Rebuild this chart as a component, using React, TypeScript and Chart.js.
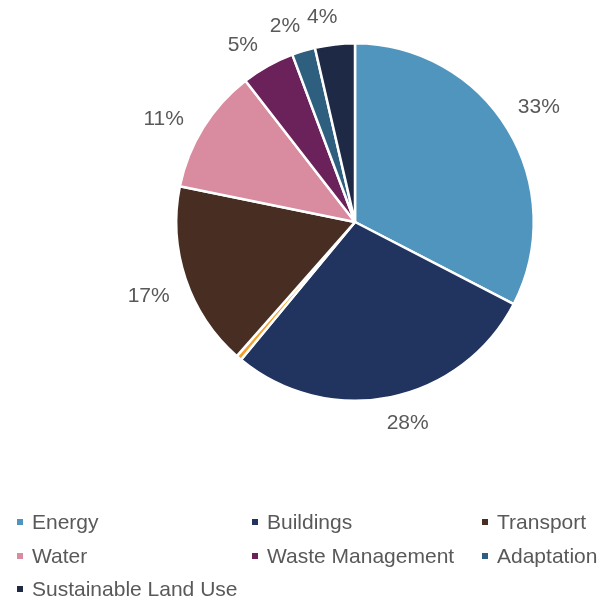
import React, { useEffect, useRef } from "react";
import { Chart, registerables } from "chart.js";

Chart.register(...registerables);

const categories = ["Energy", "Buildings", "Other", "Transport", "Water", "Waste Management", "Adaptation", "Sustainable Land Use"];
const shares = [32.6, 28.4, 0.5, 16.7, 11.3, 4.8, 2.1, 3.6];
const colors = ["#5095BD", "#21345F", "#F2A12E", "#482D22", "#D98BA0", "#6B2159", "#2F5F7F", "#1E2945"];
const legendHidden = ["Other"];

const FONT = "'Liberation Sans', Arial, sans-serif";
const TEXT = "#595959";
const SIZE = 21;

const outsideLabels = {
  id: "outsideLabels",
  afterDatasetsDraw(chart: any) {
    const ctx = chart.ctx;
    const meta = chart.getDatasetMeta(0);
    ctx.save();
    ctx.font = `${SIZE}px ${FONT}`;
    ctx.fillStyle = TEXT;
    ctx.textAlign = "center";
    ctx.textBaseline = "middle";
    meta.data.forEach((arc: any, i: number) => {
      if (legendHidden.includes(categories[i])) return;
      const p = arc.getProps(["x", "y", "startAngle", "endAngle", "outerRadius"], true);
      const mid = (p.startAngle + p.endAngle) / 2 - 0.04;
      const txt = Math.round(shares[i]) + "%";
      const w = ctx.measureText(txt).width;
      const h = SIZE * 0.75;
      const r = p.outerRadius + 19;
      const ux = Math.cos(mid);
      const uy = Math.sin(mid);
      const x = p.x + ux * r + ux * (w / 2 + 2);
      const y = p.y + uy * r + uy * (h / 2 + 2);
      ctx.fillText(txt, x, y);
    });
    ctx.restore();
  },
};

const gridLegend = {
  id: "gridLegend",
  afterDraw(chart: any) {
    const ctx = chart.ctx;
    const colX = [20, 255, 485];
    const rowY = [522, 556, 589];
    const items = categories.map((c, i) => ({ c, col: colors[i] })).filter((d) => !legendHidden.includes(d.c));
    ctx.save();
    ctx.font = `${SIZE}px ${FONT}`;
    ctx.textBaseline = "middle";
    ctx.textAlign = "left";
    items.forEach((d, k) => {
      const x = colX[k % 3];
      const y = rowY[Math.floor(k / 3)];
      ctx.fillStyle = d.col;
      ctx.fillRect(x - 3, y - 3, 6, 6);
      ctx.fillStyle = TEXT;
      ctx.fillText(d.c, x + 12, y + 1);
    });
    ctx.restore();
  },
};

export default function App() {
  const ref = useRef<HTMLCanvasElement>(null);
  useEffect(() => {
    if (!ref.current) return;
    const chart = new Chart(ref.current, {
      type: "pie",
      data: {
        labels: categories,
        datasets: [
          {
            data: shares,
            backgroundColor: colors,
            borderColor: "#ffffff",
            borderWidth: 2.5,
          },
        ],
      },
      options: {
        responsive: false,
        animation: false,
        layout: { padding: { left: 175, right: 69, top: 41, bottom: 199 } },
        plugins: {
          legend: { display: false },
          tooltip: { enabled: false },
        },
      },
      plugins: [outsideLabels, gridLegend],
    });
    return () => chart.destroy();
  }, []);
  return (
    <div style={{ position: "fixed", left: 0, top: 0, width: 604, height: 602, background: "#fff" }}>
      <canvas ref={ref} width={604} height={602} style={{ width: 604, height: 602, display: "block" }} />
    </div>
  );
}
